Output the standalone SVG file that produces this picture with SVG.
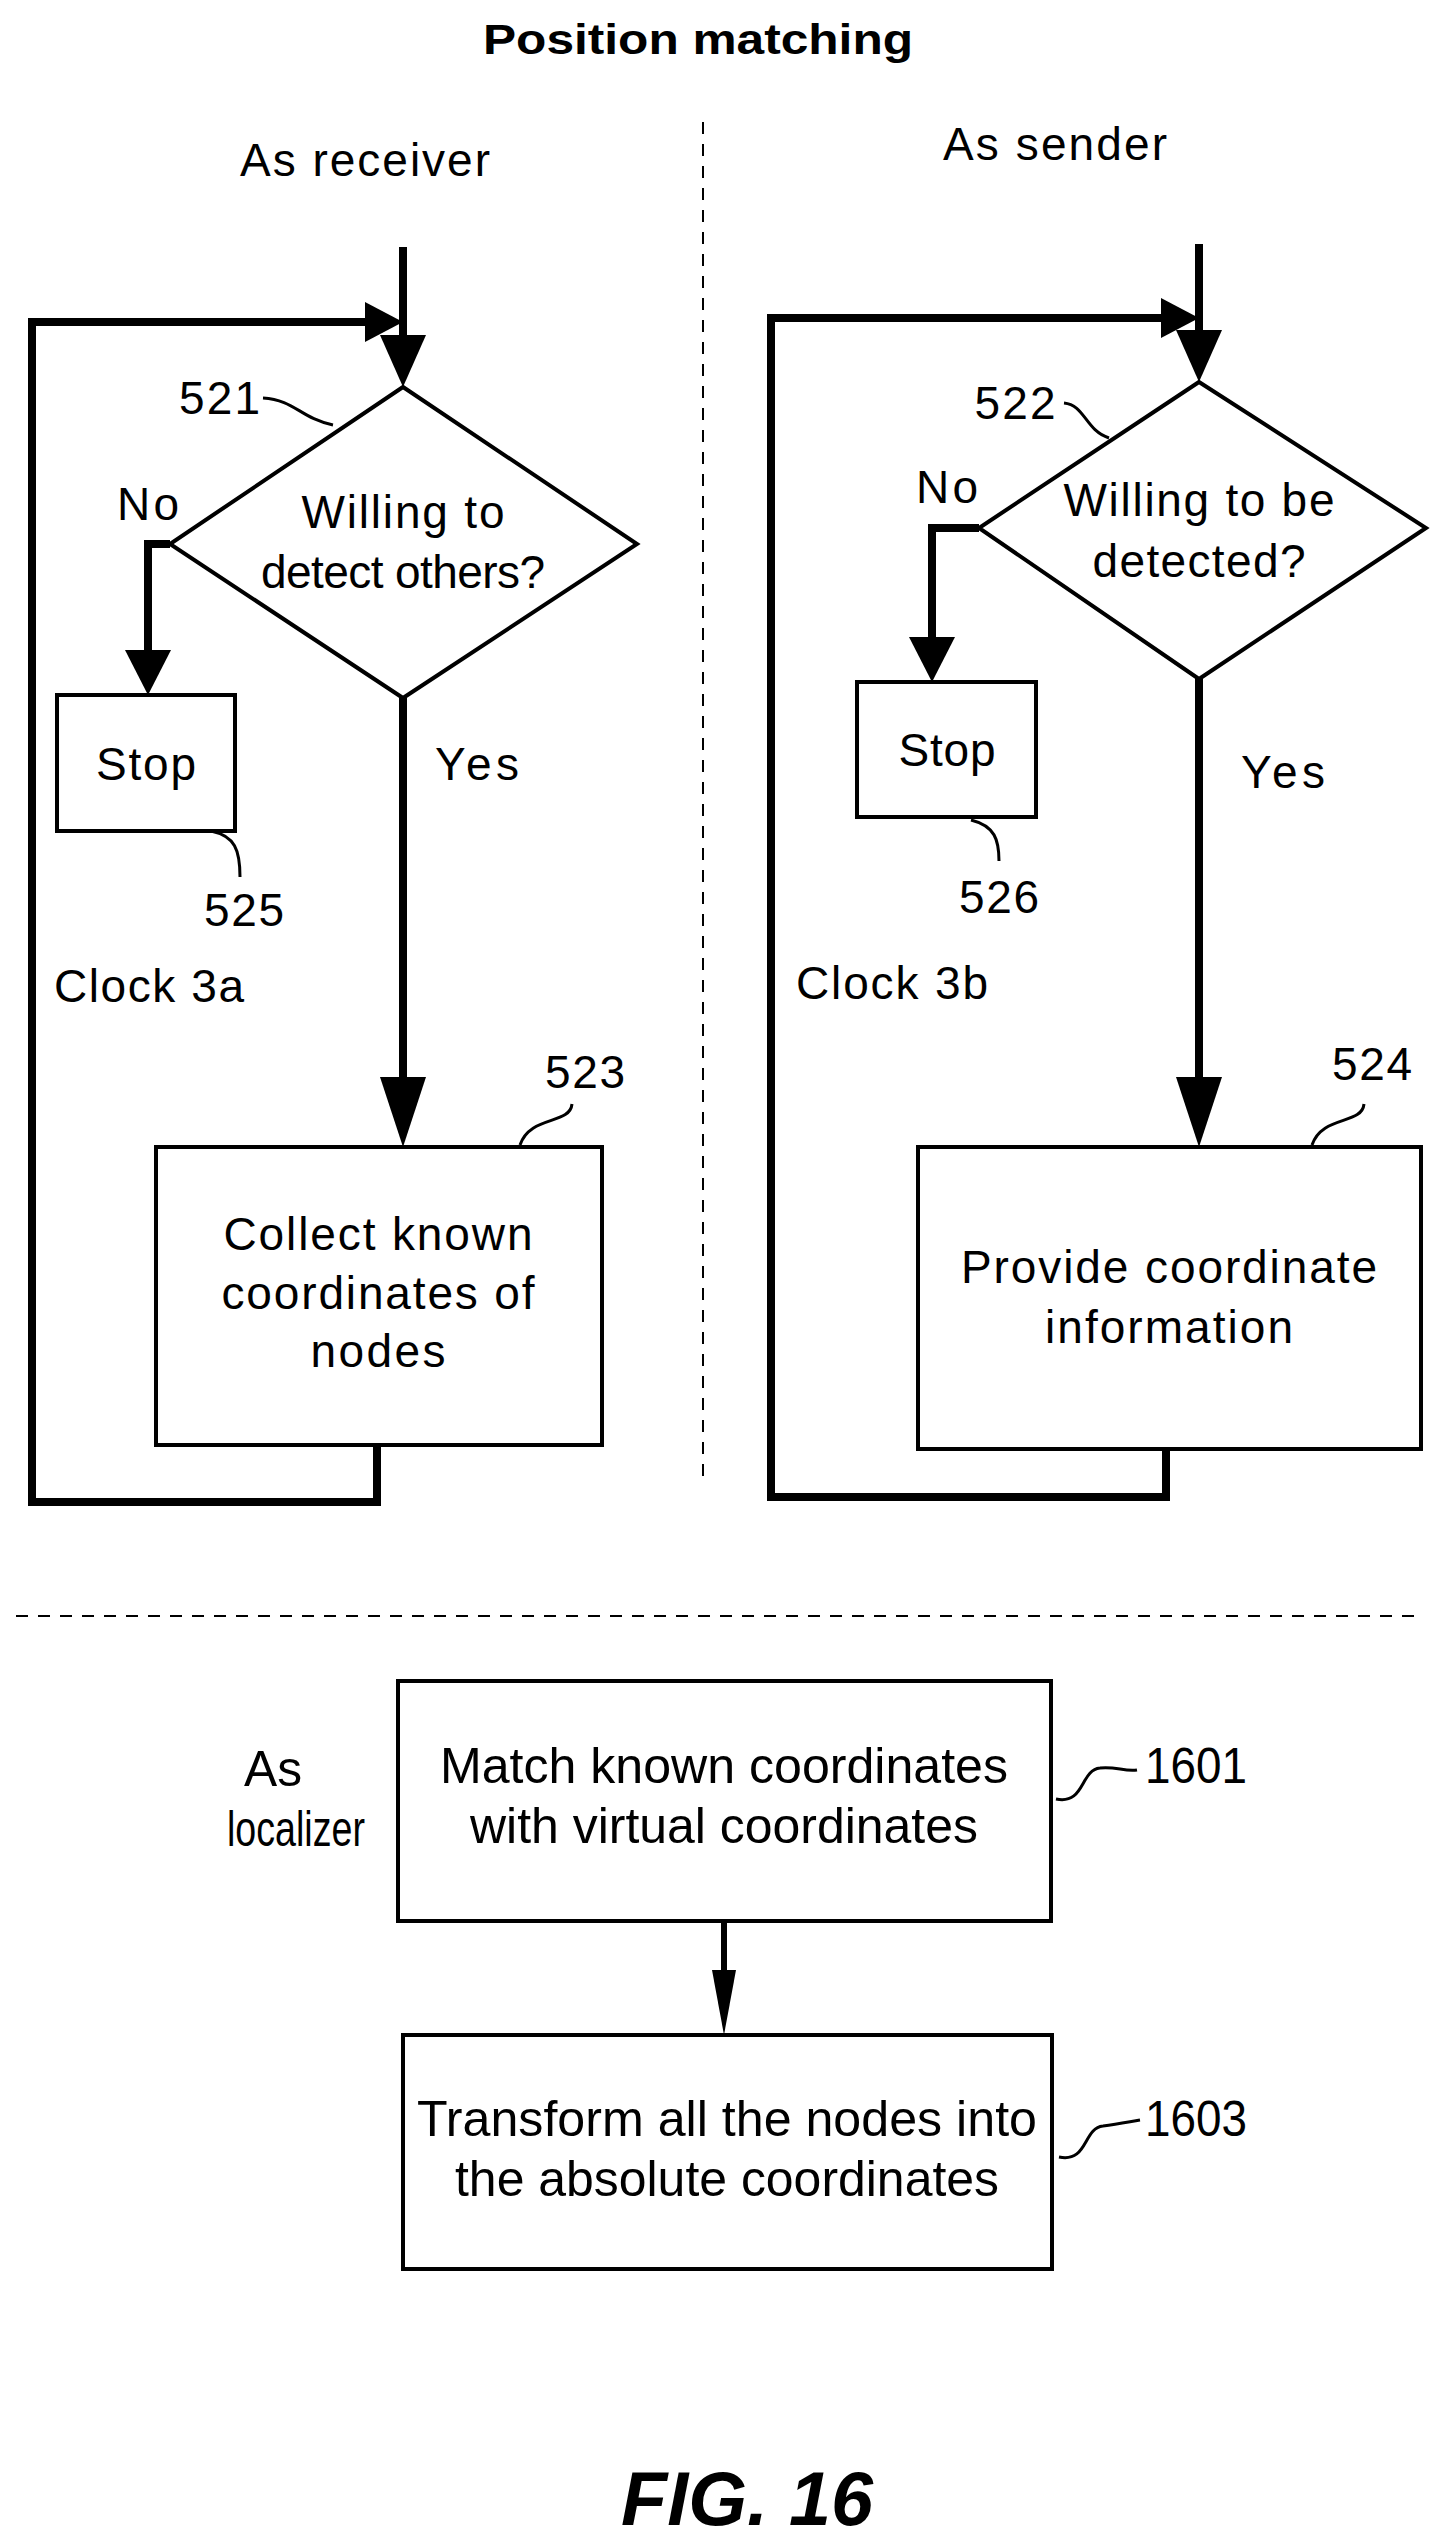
<svg xmlns="http://www.w3.org/2000/svg" width="1439" height="2538" viewBox="0 0 1439 2538">
<style>
text{font-family:"Liberation Sans",Arial,sans-serif;font-size:46px;fill:#000}
.m{text-anchor:middle}
.thick{fill:none;stroke:#000;stroke-width:8}
.box{fill:#fff;stroke:#000;stroke-width:4}
.lead{fill:none;stroke:#000;stroke-width:3}
.dash{stroke:#000;stroke-width:2;stroke-dasharray:12 10}
.n{font-size:50px}
</style>
<text class="m" x="698" y="54" font-weight="bold" style="font-size:42px" textLength="430" lengthAdjust="spacingAndGlyphs">Position matching</text>
<text class="m" x="365" y="176" textLength="250">As receiver</text>
<text class="m" x="1055" y="160" textLength="224">As sender</text>
<line class="dash" x1="703" y1="122" x2="703" y2="1486"/>
<line class="dash" x1="16" y1="1616" x2="1421" y2="1616"/>

<g id="connectors">
<path class="thick" d="M403,247V335"/><path d="M380,335L426,335L403,387z"/>
<path class="thick" d="M377,1445V1502H32V322H365"/><path d="M365,302L365,342L403,322z"/>
<path class="thick" d="M170,544H148V650"/><path d="M125,650L171,650L148,695z"/>
<path class="thick" d="M403,698V1077"/><path d="M380,1077L426,1077L403,1147z"/>
<path class="thick" d="M1199,244V330"/><path d="M1176,330L1222,330L1199,382z"/>
<path class="thick" d="M1166,1449V1497H771V318H1161"/><path d="M1161,298L1161,338L1199,318z"/>
<path class="thick" d="M979,528H932V637"/><path d="M909,637L955,637L932,682z"/>
<path class="thick" d="M1199,679V1077"/><path d="M1176,1077L1222,1077L1199,1147z"/>
<path class="thick" d="M724,1921V1970" style="stroke-width:6"/><path d="M712,1970L736,1970L724,2035z"/>
</g>

<g id="n521">
<polygon class="box" points="403,387 637,544 403,698 170,544"/>
<text class="m" x="403" y="528" textLength="203">Willing to</text>
<text class="m" x="403" y="588" textLength="284">detect others?</text>
<text x="179" y="414" textLength="81">521</text>
<path class="lead" d="M263,398C295,400 300,418 333,425"/>
</g>
<g id="n525">
<rect class="box" x="57" y="695" width="178" height="136"/>
<text class="m" x="146" y="780" textLength="100">Stop</text>
<path class="lead" d="M211,831C235,836 240,850 240,877"/>
<text class="m" x="244" y="926" textLength="80">525</text>
</g>
<text class="m" x="148" y="520" textLength="62">No</text>
<text x="435" y="780" textLength="84">Yes</text>
<text x="54" y="1002" textLength="190">Clock 3a</text>
<g id="n523">
<rect class="box" x="156" y="1147" width="446" height="298"/>
<text class="m" x="378" y="1250" textLength="309">Collect known</text>
<text class="m" x="378" y="1309" textLength="313">coordinates of</text>
<text class="m" x="378" y="1367" textLength="135">nodes</text>
<path class="lead" d="M520,1145C530,1115 570,1125 572,1104"/>
<text class="m" x="585" y="1088" textLength="80">523</text>
</g>

<g id="n522">
<polygon class="box" points="1199,382 1426,528 1199,679 979,528"/>
<text class="m" x="1199" y="516" textLength="271">Willing to be</text>
<text class="m" x="1199" y="577" textLength="213">detected?</text>
<text class="m" x="1015" y="419" textLength="81">522</text>
<path class="lead" d="M1064,403C1085,405 1085,430 1109,438"/>
</g>
<g id="n526">
<rect class="box" x="857" y="682" width="179" height="135"/>
<text class="m" x="947" y="766" textLength="97">Stop</text>
<path class="lead" d="M971,820C995,826 999,840 999,861"/>
<text class="m" x="999" y="913" textLength="80">526</text>
</g>
<text class="m" x="947" y="503" textLength="62">No</text>
<text class="m" x="1283" y="788" textLength="84">Yes</text>
<text x="796" y="999" textLength="192">Clock 3b</text>
<g id="n524">
<rect class="box" x="918" y="1147" width="503" height="302"/>
<text class="m" x="1169" y="1283" textLength="416">Provide coordinate</text>
<text class="m" x="1169" y="1343" textLength="248">information</text>
<path class="lead" d="M1312,1145C1322,1115 1362,1125 1364,1104"/>
<text class="m" x="1372" y="1080" textLength="80">524</text>
</g>

<text class="m n" x="273" y="1786" textLength="58" lengthAdjust="spacingAndGlyphs">As</text>
<text class="m n" x="296" y="1846" textLength="138" lengthAdjust="spacingAndGlyphs">localizer</text>
<g id="n1601">
<rect class="box" x="398" y="1681" width="653" height="240"/>
<text class="m n" x="724" y="1783" textLength="568" lengthAdjust="spacingAndGlyphs">Match known coordinates</text>
<text class="m n" x="724" y="1843" textLength="508" lengthAdjust="spacingAndGlyphs">with virtual coordinates</text>
<path class="lead" d="M1056,1799C1085,1805 1080,1770 1100,1768C1115,1766 1125,1772 1137,1770"/>
<text class="n" x="1145" y="1783" textLength="102" lengthAdjust="spacingAndGlyphs">1601</text>
</g>
<g id="n1603">
<rect class="box" x="403" y="2035" width="649" height="234"/>
<text class="m n" x="727" y="2136" textLength="620" lengthAdjust="spacingAndGlyphs">Transform all the nodes into</text>
<text class="m n" x="727" y="2196" textLength="544" lengthAdjust="spacingAndGlyphs">the absolute coordinates</text>
<path class="lead" d="M1059,2157C1088,2163 1083,2128 1103,2126C1118,2124 1128,2122 1140,2120"/>
<text class="n" x="1145" y="2136" textLength="102" lengthAdjust="spacingAndGlyphs">1603</text>
</g>
<text class="m" x="747" y="2525" font-weight="bold" font-style="italic" style="font-size:76px" textLength="252" lengthAdjust="spacingAndGlyphs">FIG. 16</text>
</svg>
